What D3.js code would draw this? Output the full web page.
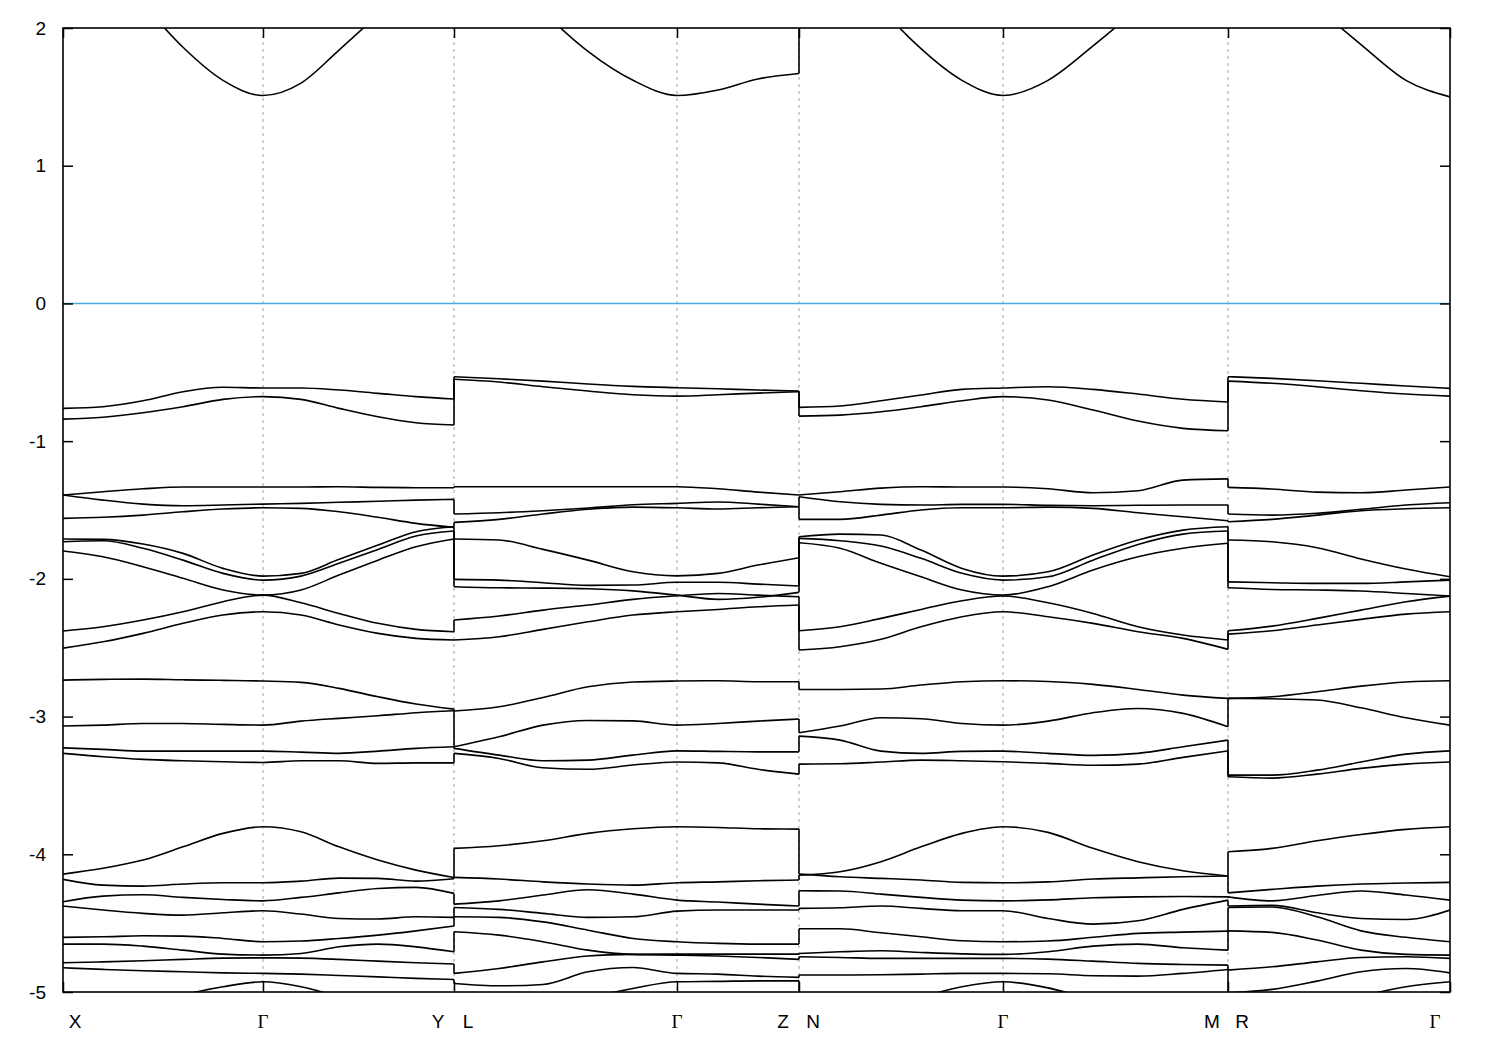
<!DOCTYPE html>
<html><head><meta charset="utf-8">
<script src="https://cdn.jsdelivr.net/npm/d3@7"></script>
<style>body{margin:0;background:#fff}svg{display:block}</style>
</head><body><svg id="chart" width="1500" height="1050"></svg>
<script>
// ---- k-path ticks ----
const kTicks = [0, 0.200, 0.391, 0.614, 0.736, 0.940, 1.165, 1.387];
const kTickLabels = ["X", "Γ", "Y L", "Γ", "Z N", "Γ", "M R", "Γ"];
const yTickValues = [2, 1, 0, -1, -2, -3, -4, -5];

// ---- sampled k along each continuous segment ----
const kSegA = [0, 0.04, 0.08, 0.12, 0.16, 0.200, 0.238, 0.276, 0.315, 0.353, 0.391]; // X-Γ-Y
const kSegB = [0.391, 0.436, 0.480, 0.525, 0.570, 0.614, 0.655, 0.695, 0.736];       // L-Γ-Z
const kSegC = [0.736, 0.777, 0.818, 0.858, 0.899, 0.940, 0.985, 1.030, 1.075, 1.120, 1.165]; // N-Γ-M
const kSegD = [1.165, 1.209, 1.254, 1.298, 1.343, 1.387];                            // R-Γ

// ---- band energies (eV) on segment X-Γ-Y ----
const bandsSegA = [
  [2.95, 2.55, 2.18, 1.86, 1.62, 1.51, 1.60, 1.84, 2.10, 2.38, 2.65],
  [-0.762, -0.750, -0.707, -0.641, -0.609, -0.614, -0.614, -0.629, -0.653, -0.677, -0.694],
  [-0.840, -0.827, -0.794, -0.750, -0.697, -0.677, -0.697, -0.762, -0.823, -0.866, -0.883],
  [-1.391, -1.367, -1.346, -1.333, -1.333, -1.333, -1.333, -1.331, -1.336, -1.338, -1.338],
  [-1.391, -1.428, -1.457, -1.469, -1.464, -1.457, -1.452, -1.444, -1.437, -1.428, -1.423],
  [-1.561, -1.553, -1.537, -1.513, -1.493, -1.484, -1.488, -1.513, -1.553, -1.597, -1.626],
  [-1.711, -1.713, -1.747, -1.815, -1.924, -1.980, -1.960, -1.858, -1.755, -1.658, -1.622],
  [-1.731, -1.723, -1.778, -1.864, -1.960, -2.009, -1.980, -1.887, -1.786, -1.689, -1.653],
  [-1.798, -1.840, -1.912, -1.996, -2.081, -2.118, -2.081, -1.972, -1.864, -1.767, -1.711],
  [-2.379, -2.348, -2.299, -2.239, -2.166, -2.118, -2.174, -2.251, -2.323, -2.367, -2.384],
  [-2.503, -2.457, -2.396, -2.323, -2.263, -2.239, -2.263, -2.335, -2.396, -2.432, -2.444],
  [-2.735, -2.730, -2.728, -2.733, -2.737, -2.742, -2.752, -2.795, -2.856, -2.909, -2.946],
  [-3.069, -3.062, -3.050, -3.050, -3.057, -3.062, -3.033, -3.013, -2.994, -2.972, -2.958],
  [-3.227, -3.238, -3.251, -3.251, -3.251, -3.251, -3.258, -3.267, -3.251, -3.231, -3.219],
  [-3.267, -3.292, -3.311, -3.321, -3.328, -3.333, -3.321, -3.321, -3.340, -3.336, -3.336],
  [-4.144, -4.102, -4.042, -3.946, -3.848, -3.800, -3.837, -3.946, -4.042, -4.115, -4.168],
  [-4.182, -4.224, -4.231, -4.216, -4.207, -4.207, -4.195, -4.173, -4.175, -4.195, -4.178],
  [-4.345, -4.304, -4.294, -4.313, -4.328, -4.338, -4.313, -4.280, -4.248, -4.240, -4.284],
  [-4.376, -4.405, -4.429, -4.442, -4.425, -4.410, -4.434, -4.466, -4.470, -4.454, -4.458],
  [-4.603, -4.599, -4.592, -4.594, -4.611, -4.635, -4.630, -4.611, -4.587, -4.556, -4.521],
  [-4.652, -4.652, -4.667, -4.696, -4.725, -4.732, -4.720, -4.672, -4.652, -4.672, -4.708],
  [-4.788, -4.781, -4.773, -4.763, -4.754, -4.752, -4.754, -4.763, -4.776, -4.788, -4.797],
  [-4.824, -4.836, -4.846, -4.853, -4.861, -4.865, -4.870, -4.880, -4.890, -4.901, -4.909],
  [-5.300, -5.200, -5.100, -5.022, -4.962, -4.926, -4.962, -5.035, -5.120, -5.200, -5.250]
];

// ---- band energies on segment L-Γ-Z ----
const bandsSegB = [
  [2.90, 2.45, 2.12, 1.83, 1.62, 1.51, 1.55, 1.63, 1.67],
  [-0.532, -0.547, -0.564, -0.585, -0.602, -0.612, -0.620, -0.629, -0.636],
  [-0.551, -0.571, -0.605, -0.636, -0.663, -0.673, -0.663, -0.651, -0.641],
  [-1.331, -1.331, -1.331, -1.331, -1.331, -1.331, -1.346, -1.370, -1.391],
  [-1.529, -1.520, -1.505, -1.486, -1.462, -1.452, -1.442, -1.457, -1.476],
  [-1.590, -1.568, -1.529, -1.495, -1.479, -1.484, -1.493, -1.484, -1.476],
  [-1.711, -1.718, -1.786, -1.864, -1.949, -1.978, -1.960, -1.900, -1.847],
  [-2.004, -2.009, -2.028, -2.047, -2.045, -2.025, -2.025, -2.038, -2.052],
  [-2.057, -2.065, -2.067, -2.072, -2.087, -2.118, -2.149, -2.134, -2.098],
  [-2.299, -2.270, -2.227, -2.190, -2.149, -2.123, -2.106, -2.118, -2.130],
  [-2.444, -2.420, -2.367, -2.312, -2.263, -2.239, -2.222, -2.203, -2.190],
  [-2.960, -2.929, -2.861, -2.784, -2.749, -2.742, -2.740, -2.747, -2.747],
  [-3.219, -3.147, -3.062, -3.028, -3.031, -3.062, -3.050, -3.033, -3.018],
  [-3.231, -3.280, -3.321, -3.316, -3.280, -3.249, -3.253, -3.256, -3.256],
  [-3.267, -3.304, -3.372, -3.383, -3.352, -3.330, -3.336, -3.383, -3.418],
  [-3.957, -3.938, -3.902, -3.848, -3.815, -3.800, -3.805, -3.815, -3.817],
  [-4.168, -4.180, -4.200, -4.216, -4.224, -4.207, -4.200, -4.192, -4.187],
  [-4.362, -4.338, -4.296, -4.258, -4.289, -4.333, -4.347, -4.362, -4.376],
  [-4.386, -4.400, -4.429, -4.458, -4.454, -4.413, -4.405, -4.405, -4.405],
  [-4.454, -4.458, -4.491, -4.551, -4.611, -4.635, -4.647, -4.652, -4.652],
  [-4.563, -4.587, -4.635, -4.696, -4.727, -4.732, -4.739, -4.749, -4.763],
  [-4.865, -4.829, -4.781, -4.739, -4.727, -4.725, -4.725, -4.725, -4.725],
  [-4.938, -4.955, -4.945, -4.853, -4.822, -4.865, -4.870, -4.885, -4.894],
  [-5.300, -5.200, -5.100, -5.040, -4.974, -4.926, -4.923, -4.919, -4.919]
];

// ---- band energies on segment N-Γ-M ----
const bandsSegC = [
  [2.90, 2.55, 2.15, 1.85, 1.62, 1.51, 1.62, 1.87, 2.15, 2.50, 2.80],
  [-0.755, -0.745, -0.707, -0.665, -0.624, -0.614, -0.605, -0.624, -0.658, -0.696, -0.716],
  [-0.818, -0.811, -0.787, -0.750, -0.707, -0.677, -0.701, -0.774, -0.854, -0.907, -0.924],
  [-1.391, -1.367, -1.341, -1.331, -1.333, -1.333, -1.346, -1.375, -1.360, -1.283, -1.274],
  [-1.404, -1.440, -1.459, -1.464, -1.459, -1.459, -1.466, -1.469, -1.466, -1.464, -1.464],
  [-1.568, -1.568, -1.537, -1.500, -1.484, -1.484, -1.479, -1.488, -1.520, -1.549, -1.578],
  [-1.694, -1.675, -1.682, -1.791, -1.924, -1.980, -1.949, -1.827, -1.718, -1.646, -1.622],
  [-1.706, -1.723, -1.762, -1.851, -1.960, -2.009, -1.985, -1.864, -1.750, -1.675, -1.653],
  [-1.738, -1.778, -1.887, -1.985, -2.081, -2.118, -2.057, -1.936, -1.840, -1.778, -1.742],
  [-2.377, -2.348, -2.287, -2.222, -2.159, -2.125, -2.174, -2.251, -2.348, -2.408, -2.444],
  [-2.517, -2.493, -2.439, -2.348, -2.275, -2.239, -2.275, -2.323, -2.384, -2.432, -2.512],
  [-2.803, -2.803, -2.800, -2.771, -2.747, -2.740, -2.745, -2.766, -2.803, -2.844, -2.868],
  [-3.118, -3.069, -3.009, -3.016, -3.050, -3.062, -3.033, -2.972, -2.941, -2.977, -3.074],
  [-3.142, -3.171, -3.251, -3.267, -3.253, -3.251, -3.267, -3.282, -3.267, -3.219, -3.171],
  [-3.345, -3.343, -3.330, -3.316, -3.321, -3.328, -3.340, -3.354, -3.345, -3.296, -3.249],
  [-4.151, -4.127, -4.054, -3.946, -3.848, -3.800, -3.841, -3.957, -4.054, -4.120, -4.158],
  [-4.144, -4.163, -4.175, -4.187, -4.204, -4.207, -4.200, -4.180, -4.171, -4.163, -4.158],
  [-4.265, -4.267, -4.289, -4.313, -4.333, -4.338, -4.331, -4.316, -4.309, -4.306, -4.309],
  [-4.393, -4.388, -4.376, -4.393, -4.410, -4.410, -4.466, -4.507, -4.483, -4.400, -4.333],
  [-4.541, -4.541, -4.570, -4.599, -4.628, -4.635, -4.630, -4.603, -4.574, -4.565, -4.558],
  [-4.720, -4.708, -4.701, -4.713, -4.723, -4.727, -4.708, -4.667, -4.652, -4.679, -4.696],
  [-4.744, -4.749, -4.756, -4.756, -4.756, -4.756, -4.761, -4.776, -4.792, -4.800, -4.805],
  [-4.877, -4.877, -4.875, -4.870, -4.865, -4.865, -4.868, -4.882, -4.885, -4.865, -4.836],
  [-5.300, -5.200, -5.100, -5.035, -4.962, -4.926, -4.970, -5.060, -5.150, -5.250, -5.300]
];

// ---- band energies on segment R-Γ ----
const bandsSegD = [
  [2.80, 2.45, 2.15, 1.88, 1.62, 1.50],
  [-0.532, -0.544, -0.561, -0.580, -0.600, -0.617],
  [-0.564, -0.580, -0.605, -0.634, -0.658, -0.673],
  [-1.336, -1.348, -1.370, -1.375, -1.355, -1.333],
  [-1.529, -1.537, -1.524, -1.495, -1.464, -1.447],
  [-1.585, -1.568, -1.537, -1.505, -1.491, -1.484],
  [-1.718, -1.731, -1.774, -1.856, -1.929, -1.985],
  [-2.022, -2.028, -2.033, -2.033, -2.022, -2.009],
  [-2.065, -2.077, -2.081, -2.088, -2.106, -2.125],
  [-2.377, -2.343, -2.287, -2.227, -2.166, -2.125],
  [-2.401, -2.377, -2.335, -2.294, -2.256, -2.239],
  [-2.868, -2.856, -2.820, -2.779, -2.749, -2.740],
  [-2.868, -2.871, -2.880, -2.936, -3.009, -3.062],
  [-3.425, -3.425, -3.389, -3.330, -3.273, -3.249],
  [-3.437, -3.447, -3.418, -3.376, -3.345, -3.330],
  [-3.982, -3.957, -3.902, -3.856, -3.819, -3.800],
  [-4.280, -4.255, -4.231, -4.216, -4.209, -4.204],
  [-4.309, -4.338, -4.299, -4.267, -4.296, -4.333],
  [-4.376, -4.371, -4.425, -4.466, -4.473, -4.405],
  [-4.386, -4.383, -4.454, -4.556, -4.603, -4.635],
  [-4.556, -4.567, -4.623, -4.696, -4.727, -4.732],
  [-4.841, -4.817, -4.781, -4.749, -4.744, -4.756],
  [-5.006, -4.981, -4.921, -4.853, -4.829, -4.861],
  [-5.300, -5.200, -5.100, -5.030, -4.962, -4.926]
];

const fermiLevel = [0];

// ---- drawing ----
const svg = d3.select("#chart");
const plot = {left: 63, top: 28, right: 1450, bottom: 992};
const x = d3.scaleLinear().domain([kTicks[0], kTicks[kTicks.length - 1]]).range([plot.left, plot.right]);
const y = d3.scaleLinear().domain([-5, 2]).range([plot.bottom, plot.top]);
const sansFont = "'Liberation Sans', Arial, sans-serif";
const serifFont = "'Liberation Serif', 'Times New Roman', serif";

svg.append("rect").attr("width", 1500).attr("height", 1050).attr("fill", "#fff");

svg.append("defs").append("clipPath").attr("id", "clip")
  .append("rect").attr("x", plot.left).attr("y", plot.top)
  .attr("width", plot.right - plot.left).attr("height", plot.bottom - plot.top);

// vertical dashed grid at high-symmetry points
svg.append("g").selectAll("line").data(kTicks.slice(1, -1)).join("line")
  .attr("x1", d => x(d)).attr("x2", d => x(d))
  .attr("y1", plot.top).attr("y2", plot.bottom)
  .attr("stroke", "#a0a0a0").attr("stroke-width", 1)
  .attr("stroke-dasharray", "3,4");

// Fermi level
svg.append("g").selectAll("line").data(fermiLevel).join("line")
  .attr("x1", plot.left).attr("x2", plot.right)
  .attr("y1", d => y(d)).attr("y2", d => y(d))
  .attr("stroke", "#4aa8e0").attr("stroke-width", 1.6);

const bandG = svg.append("g").attr("clip-path", "url(#clip)");
const segments = [
  {k: kSegA, bands: bandsSegA},
  {k: kSegB, bands: bandsSegB},
  {k: kSegC, bands: bandsSegC},
  {k: kSegD, bands: bandsSegD}
];
segments.forEach(seg => {
  const line = d3.line()
    .x((d, i) => x(seg.k[i]))
    .y(d => y(d))
    .curve(d3.curveMonotoneX);
  bandG.append("g").selectAll("path").data(seg.bands).join("path")
    .attr("d", line).attr("fill", "none")
    .attr("stroke", "#000").attr("stroke-width", 1.6)
    .attr("stroke-linejoin", "round");
});
// vertical connectors at discontinuities (bands paired by energy order)
for (let s = 0; s < segments.length - 1; s++) {
  const kb = segments[s].k[segments[s].k.length - 1];
  const ends = segments[s].bands.map(b => b[b.length - 1]).sort((a, b) => b - a);
  const starts = segments[s + 1].bands.map(b => b[0]).sort((a, b) => b - a);
  const pairs = ends.map((e, i) => [e, starts[i]]);
  bandG.append("g").selectAll("line").data(pairs).join("line")
    .attr("x1", x(kb)).attr("x2", x(kb))
    .attr("y1", d => y(d[0])).attr("y2", d => y(d[1]))
    .attr("stroke", "#000").attr("stroke-width", 1.6);
}

// border
svg.append("rect").attr("x", plot.left).attr("y", plot.top)
  .attr("width", plot.right - plot.left).attr("height", plot.bottom - plot.top)
  .attr("fill", "none").attr("stroke", "#000").attr("stroke-width", 1.6);

// y axis (left, with mirrored ticks on right)
const yAxisL = d3.axisLeft(y).tickValues(yTickValues).tickSize(-10).tickPadding(17)
  .tickFormat(d => String(d));
const gy = svg.append("g").attr("transform", `translate(${plot.left},0)`).call(yAxisL);
gy.select(".domain").remove();
gy.selectAll(".tick line").attr("stroke", "#000").attr("stroke-width", 1.5);
gy.selectAll(".tick text").attr("font-family", sansFont)
  .attr("font-size", 19).attr("fill", "#000");
const yAxisR = d3.axisRight(y).tickValues(yTickValues).tickSize(-10).tickFormat("");
const gyr = svg.append("g").attr("transform", `translate(${plot.right},0)`).call(yAxisR);
gyr.select(".domain").remove();
gyr.selectAll(".tick line").attr("stroke", "#000").attr("stroke-width", 1.5);

// x ticks (bottom + top mirror)
const xAxisB = d3.axisBottom(x).tickValues(kTicks).tickSize(-10).tickFormat("");
const gxb = svg.append("g").attr("transform", `translate(0,${plot.bottom})`).call(xAxisB);
gxb.select(".domain").remove();
gxb.selectAll(".tick line").attr("stroke", "#000").attr("stroke-width", 1.5);
const xAxisT = d3.axisTop(x).tickValues(kTicks).tickSize(-10).tickFormat("");
const gxt = svg.append("g").attr("transform", `translate(0,${plot.top})`).call(xAxisT);
gxt.select(".domain").remove();
gxt.selectAll(".tick line").attr("stroke", "#000").attr("stroke-width", 1.5);

// x tick labels
const labG = svg.append("g").attr("font-size", 19).attr("fill", "#000");
kTickLabels.forEach((lab, i) => {
  const parts = lab.split(" ");
  const n = kTickLabels.length;
  parts.forEach((p, j) => {
    let dx = 0;
    if (parts.length === 2) dx = j === 0 ? -16 : 14;
    if (i === 0) dx = 12;
    if (i === n - 1) dx = -15;
    labG.append("text")
      .attr("x", x(kTicks[i]) + dx).attr("y", plot.bottom + 36)
      .attr("text-anchor", "middle")
      .attr("font-family", p === "Γ" ? serifFont : sansFont)
      .text(p);
  });
});
</script></body></html>
